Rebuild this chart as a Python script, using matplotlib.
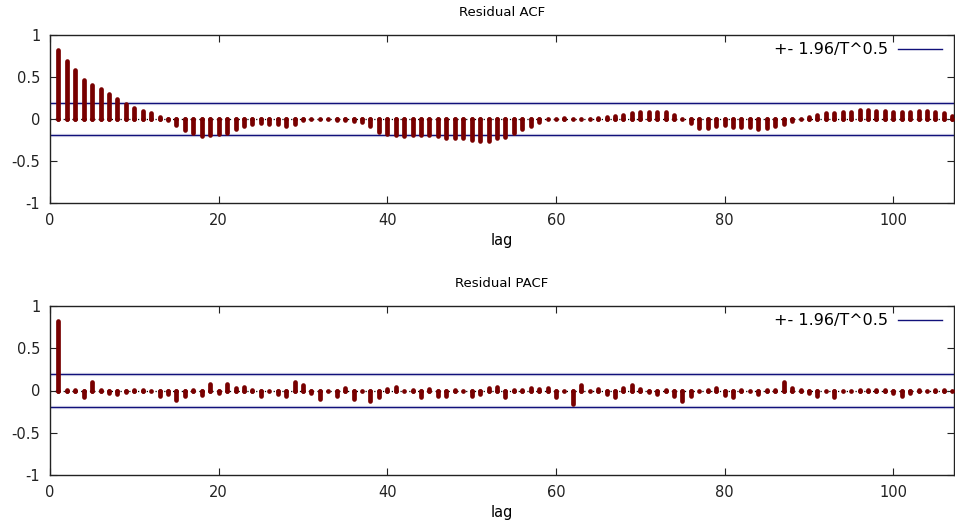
import matplotlib
matplotlib.use("Agg")
import matplotlib.pyplot as plt
from matplotlib.lines import Line2D

# residual autocorrelations, lags 1..107
acf = [0.821, 0.690, 0.583, 0.464, 0.405, 0.353, 0.298, 0.238, 0.183, 0.127,
       0.095, 0.067, 0.020, -0.010, -0.071, -0.135, -0.163, -0.202, -0.190, -0.183,
       -0.163, -0.123, -0.087, -0.063, -0.052, -0.056, -0.063, -0.083, -0.063, -0.010,
       0.005, 0.005, 0.005, -0.015, -0.015, -0.024, -0.040, -0.083, -0.150, -0.183,
       -0.194, -0.198, -0.190, -0.190, -0.190, -0.198, -0.226, -0.226, -0.230, -0.246,
       -0.266, -0.258, -0.222, -0.210, -0.170, -0.123, -0.080, -0.036, -0.005, 0.005,
       0.016, 0.004, 0.004, 0.004, 0.006, 0.024, 0.032, 0.052, 0.071, 0.087,
       0.087, 0.087, 0.087, 0.048, 0.004, -0.044, -0.103, -0.103, -0.083, -0.071,
       -0.095, -0.095, -0.095, -0.115, -0.103, -0.083, -0.056, -0.024, 0.004, 0.024,
       0.048, 0.067, 0.071, 0.079, 0.079, 0.103, 0.107, 0.099, 0.099, 0.087,
       0.087, 0.087, 0.095, 0.095, 0.087, 0.075, 0.040]

pacf = [0.822, 0.005, 0.010, -0.080, 0.100, 0.005, -0.035, -0.047, -0.015, 0.004,
        0.005, -0.010, -0.070, -0.047, -0.110, -0.063, 0.005, -0.055, 0.080, -0.030,
        0.080, 0.030, 0.047, 0.004, -0.070, -0.010, -0.040, -0.060, 0.099, 0.070,
        -0.024, -0.099, -0.005, -0.067, 0.028, -0.095, -0.005, -0.120, -0.075, 0.016,
        0.043, -0.010, 0.004, -0.080, 0.016, -0.070, -0.063, 0.010, -0.010, -0.070,
        -0.047, 0.030, 0.036, -0.080, 0.005, 0.004, 0.024, 0.016, 0.032, -0.075,
        -0.005, -0.160, 0.070, -0.010, 0.016, -0.047, -0.075, 0.024, 0.070, 0.012,
        -0.012, -0.047, 0.005, -0.070, -0.120, -0.060, -0.010, 0.005, 0.030, -0.055,
        -0.080, 0.004, -0.005, -0.040, 0.005, 0.010, 0.095, 0.030, 0.010, -0.025,
        -0.067, -0.010, -0.075, -0.005, -0.005, 0.010, 0.004, 0.004, 0.010, -0.025,
        -0.070, -0.030, 0.010, -0.005, 0.010, 0.010, -0.005]

lags = list(range(1, len(acf) + 1))
band = 0.19   # 1.96/T^0.5
bar_color = "#780000"
band_color = "#10107a"
bar_w = 3.4

plt.rcParams["font.family"] = "DejaVu Sans"
fig = plt.figure(figsize=(9.55, 5.25), dpi=100)
ax1 = fig.add_axes([50 / 955, 1 - 203 / 525, 904 / 955, 168 / 525])
ax2 = fig.add_axes([50 / 955, 1 - 475 / 525, 904 / 955, 169 / 525])

for ax, vals, title in [(ax1, acf, "Residual ACF"), (ax2, pacf, "Residual PACF")]:
    ax.axhline(0, color="black", lw=0.9, linestyle=(0, (1, 2.5)), zorder=1)
    for b in (band, -band):
        ax.axhline(b, color=band_color, lw=2.5, alpha=0.1, zorder=1)
        ax.axhline(b, color=band_color, lw=1.0, zorder=2)
    for l, v in zip(lags, vals):
        ax.plot([l, l], [0, v], color=bar_color, lw=bar_w,
                solid_capstyle="round", zorder=3)
    # small values still show as a dot
    ax.plot(lags, [0] * len(lags), "o", ms=bar_w, mew=0, color=bar_color, zorder=3)
    ax.set_xlim(0, 107.2)
    ax.set_ylim(-1, 1)
    ax.set_yticks([-1, -0.5, 0, 0.5, 1])
    ax.set_yticklabels(["-1", "-0.5", "0", "0.5", "1"])
    ax.set_xticks([0, 20, 40, 60, 80, 100])
    ax.tick_params(direction="in", top=True, right=True, length=5, width=0.8,
                   labelsize=10.5, pad=7, colors="#222222")
    for s in ax.spines.values():
        s.set_linewidth(1.0)
        s.set_color("#222222")
    ax.set_xlabel("lag", fontsize=10.5, labelpad=4)
    ax.set_title(title, fontsize=9.5, pad=14)
    handle = Line2D([], [], color=band_color, lw=1.0)
    ax.legend([handle], ["+- 1.96/T^0.5"], loc="upper right", frameon=False,
              markerfirst=False, fontsize=11.5, handlelength=2.8,
              borderaxespad=0.05, handletextpad=0.6,
              bbox_to_anchor=(0.995, 1.0))

fig.savefig("out.png", dpi=100)
